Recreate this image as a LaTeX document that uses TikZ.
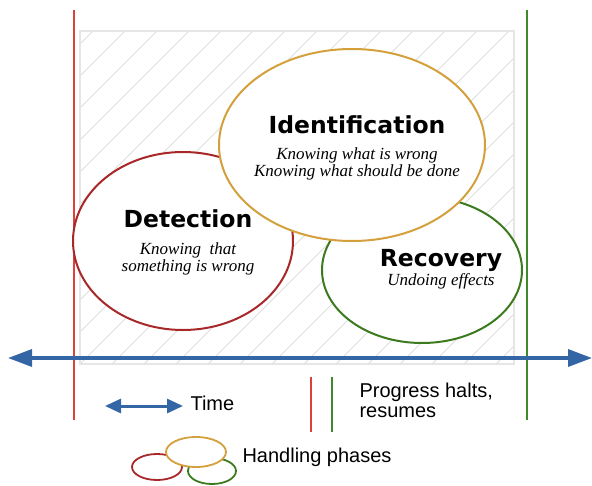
\documentclass[tikz,border=0pt]{standalone}
\usepackage{fontspec}
\setmainfont{Liberation Sans}
\newfontfamily\headfont{DejaVu Sans}
\newfontfamily\itfont{Liberation Serif}
\usetikzlibrary{arrows.meta}
\definecolor{detred}{HTML}{A8282A}
\definecolor{idgold}{HTML}{D4A03C}
\definecolor{recgreen}{HTML}{3B7A1E}
\definecolor{timeblue}{HTML}{3465A4}
\definecolor{hatchgrey}{HTML}{DDDDDD}
\definecolor{framegrey}{HTML}{E6E6E6}
\definecolor{markred}{HTML}{E0403A}
\definecolor{markgreen}{HTML}{3E8A2A}
\tikzset{
  heading/.style={font=\headfont\bfseries\fontsize{23.5}{26}\selectfont},
  detail/.style={font=\itfont\itshape\fontsize{17}{17}\selectfont, align=center},
  legend/.style={font=\fontsize{20}{22}\selectfont, anchor=west, align=left},
  timearrow/.style={draw=timeblue, line width=3.4pt, {Triangle[length=24pt,width=17pt]}-{Triangle[length=24pt,width=17pt]}},
}
\begin{document}
\begin{tikzpicture}[x=1pt,y=-1pt]
\useasboundingbox (0,0) rectangle (592,485);
% hatched region
\begin{scope}
\clip (80,31) rectangle (514,364);
\foreach \i in {-12,...,14} {
  \draw[hatchgrey, line width=0.9pt] (80+\i*32,364) -- ++(400,-400);
}
\end{scope}
\draw[framegrey, line width=2.6pt] (80,31) rectangle (514,364);
% vertical markers
\coordinate (rtop) at (74,10); \coordinate (rbot) at (74,420);
\coordinate (gtop) at (527,10); \coordinate (gbot) at (527,420);
\draw[markred, line width=1.5pt] (rtop) -- (rbot);
\draw[markgreen, line width=1.5pt] (gtop) -- (gbot);
% ellipses
\draw[detred, fill=white, line width=2pt] (183,241) ellipse [x radius=110, y radius=89];
\draw[recgreen, fill=white, line width=2pt] (422,270) ellipse [x radius=100, y radius=73];
\draw[idgold, fill=white, line width=2pt] (352,145) ellipse [x radius=133, y radius=96];
\node[heading] (dh) at (188,219) {Detection};
\node[detail] (dt) at (188,259) {Knowing\ \ that\\something is wrong};
\node[heading] (ih) at (357,125) {Identification};
\node[detail] (it) at (357,164) {Knowing what is wrong\\Knowing what should be done};
\node[heading] (rh) at (441,260) {Recovery};
\node[detail] (rt) at (441,281) {Undoing effects};
% time axis
\coordinate (tl) at (8,358); \coordinate (tr) at (592,358);
\draw[timearrow] (tl) -- (tr);
% legend
\coordinate (la) at (105,406); \coordinate (lb) at (183,406);
\draw[draw=timeblue, line width=3pt, {Triangle[length=16pt,width=14pt]}-{Triangle[length=16pt,width=14pt]}] (la) -- (lb);
\node[legend] (time) at (187,403) {Time};
\coordinate (mr1) at (311,377); \coordinate (mr2) at (311,432);
\coordinate (mg1) at (332,377); \coordinate (mg2) at (332,432);
\draw[markred, line width=1.5pt] (mr1) -- (mr2);
\draw[markgreen, line width=1.5pt] (mg1) -- (mg2);
\node[legend] (prog) at (356,400) {Progress halts,\\[-2pt]resumes};
\draw[detred, line width=1.8pt] (157,467) ellipse [x radius=25, y radius=13];
\draw[recgreen, line width=1.8pt] (212,471) ellipse [x radius=24, y radius=13];
\draw[idgold, fill=white, line width=1.8pt] (196,452) ellipse [x radius=30, y radius=15];
\node[legend] (hp) at (239,457) {Handling phases};
\end{tikzpicture}
\end{document}
